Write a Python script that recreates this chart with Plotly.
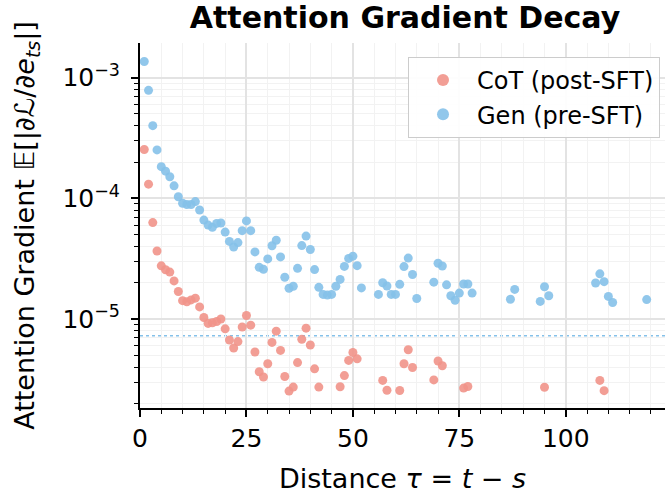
import plotly.graph_objects as go

# ---- data ----
gen_x = [1, 2, 3, 4, 5, 6, 7, 8, 9, 10, 11, 12, 13, 14, 15, 16, 17, 18, 19, 20,
         21, 22, 23, 24, 25, 26, 27, 28, 29, 30, 31, 32, 33, 34, 35, 36, 37, 38, 39, 40,
         41, 42, 43, 44, 45, 46, 47, 48, 49, 50, 51, 52,
         56, 57, 58, 59, 60, 61, 62, 63, 64, 65,
         69, 70, 71, 72, 73, 74, 75, 76, 77, 78,
         87, 88, 94, 95, 96, 107, 108, 109, 110, 111, 119]
gen_y = [1.36e-3, 7.85e-4, 4.0e-4, 2.52e-4, 1.83e-4, 1.68e-4, 1.51e-4, 1.27e-4, 1.03e-4, 9.1e-5,
         8.9e-5, 8.9e-5, 9.4e-5, 8.0e-5, 6.6e-5, 6.0e-5, 5.75e-5, 6.2e-5, 6.25e-5, 5.25e-5,
         4.4e-5, 3.95e-5, 4.3e-5, 5.4e-5, 6.5e-5, 5.4e-5, 3.6e-5, 2.68e-5, 2.58e-5, 3.15e-5,
         4.05e-5, 4.5e-5, 3.27e-5, 2.22e-5, 1.8e-5, 1.87e-5, 2.63e-5, 4.06e-5, 4.87e-5, 3.77e-5,
         2.57e-5, 1.83e-5, 1.6e-5, 1.58e-5, 1.6e-5, 1.87e-5, 2.13e-5, 2.73e-5, 3.18e-5, 3.32e-5,
         2.77e-5, 1.81e-5,
         1.6e-5, 2.0e-5, 1.88e-5, 1.6e-5, 1.6e-5, 1.94e-5, 2.72e-5, 3.2e-5, 2.34e-5, 1.48e-5,
         2.02e-5, 2.9e-5, 2.75e-5, 1.92e-5, 1.56e-5, 1.43e-5, 1.64e-5, 1.95e-5, 1.95e-5, 1.64e-5,
         1.46e-5, 1.76e-5, 1.4e-5, 1.85e-5, 1.56e-5, 1.99e-5, 2.37e-5, 2.04e-5, 1.54e-5, 1.37e-5,
         1.45e-5]

cot_x = [1, 2, 3, 4, 5, 6, 7, 8, 9, 10, 11, 12, 13, 14, 15, 16, 17, 18, 19, 20,
         21, 22, 23, 24, 25, 26, 27, 28, 29, 30, 31, 32, 33, 34, 35, 36, 37, 38, 39, 40,
         41, 42, 47, 48, 49, 50, 51, 57, 58, 61, 62, 63, 64, 69, 70, 71, 76, 77, 95, 108, 109]
cot_y = [2.54e-4, 1.31e-4, 6.3e-5, 3.66e-5, 2.76e-5, 2.56e-5, 2.45e-5, 2.07e-5, 1.69e-5, 1.42e-5,
         1.39e-5, 1.44e-5, 1.49e-5, 1.26e-5, 1.03e-5, 9.2e-6, 9.3e-6, 9.55e-6, 1.0e-5, 8.3e-6,
         6.7e-6, 5.75e-6, 6.5e-6, 8.6e-6, 1.07e-5, 8.9e-6, 5.33e-6, 3.66e-6, 3.31e-6, 4.26e-6,
         6.4e-6, 7.94e-6, 5.5e-6, 3.34e-6, 2.53e-6, 2.73e-6, 4.36e-6, 6.8e-6, 8.4e-6, 6.1e-6,
         3.87e-6, 2.73e-6, 2.75e-6, 3.4e-6, 4.54e-6, 5.28e-6, 4.68e-6, 3.1e-6, 2.57e-6, 2.56e-6,
         4.26e-6, 5.57e-6, 3.97e-6, 3.13e-6, 4.49e-6, 4.1e-6, 2.68e-6, 2.76e-6, 2.72e-6, 3.1e-6,
         2.55e-6]

noise_floor = 7.27e-6
x_range = [0, 123.3]
y_range_log = [-5.737, -2.713]
y_tickvals = [1e-5, 1e-4, 1e-3]
y_ticktext = ["10<sup>−5</sup>", "10<sup>−4</sup>", "10<sup>−3</sup>"]
x_tickvals = [0, 25, 50, 75, 100]

RED = "#F1948A"
BLUE = "#85C1E9"
FONT = "DejaVu Sans"

fig = go.Figure()
fig.add_trace(go.Scatter(x=cot_x, y=cot_y, mode="markers", name="CoT (post-SFT)",
                         marker=dict(color=RED, size=9, opacity=0.9, line=dict(width=0))))
fig.add_trace(go.Scatter(x=gen_x, y=gen_y, mode="markers", name="Gen (pre-SFT)",
                         marker=dict(color=BLUE, size=9, opacity=0.9, line=dict(width=0))))

fig.add_shape(type="line", xref="paper", x0=0, x1=1, yref="y", y0=noise_floor, y1=noise_floor,
              line=dict(color=BLUE, width=1.6, dash="dot"), layer="below")

fig.update_layout(
    width=665, height=496,
    margin=dict(l=140, r=0, t=43, b=88),
    paper_bgcolor="white", plot_bgcolor="white",
    font=dict(family=FONT, size=24, color="black"),
    title=dict(text="<b>Attention Gradient Decay</b>", x=0.609, xanchor="center",
               y=1 - 17 / 496, yanchor="middle", font=dict(family=FONT, size=30, color="black")),
    showlegend=True,
    legend=dict(x=0.9905, xanchor="right", y=0.962, yanchor="top",
                bgcolor="rgba(255,255,255,0.9)", bordercolor="#cccccc", borderwidth=1,
                font=dict(family=FONT, size=24), itemsizing="constant", itemwidth=58,
                entrywidth=188, entrywidthmode="pixels",
                tracegroupgap=0),
)

fig.update_xaxes(
    range=x_range, tickvals=x_tickvals, ticks="outside", ticklen=7, tickwidth=1.6,
    tickcolor="black", showline=True, linecolor="black", linewidth=2, mirror=False,
    showgrid=True, gridcolor="#e3e3e3", gridwidth=1.5, zeroline=False, automargin=False,
    minor=dict(dtick=5, ticks="outside", ticklen=4, tickwidth=1, tickcolor="black",
               showgrid=True, gridcolor="#f2f2f2", gridwidth=1),
    title=dict(text="Distance <i>τ</i> = <i>t</i> − <i>s</i>", standoff=17,
               font=dict(family=FONT, size=27)),
    tickfont=dict(family=FONT, size=25),
)

fig.update_yaxes(
    type="log", range=y_range_log, tickvals=y_tickvals, ticktext=y_ticktext,
    ticks="outside", ticklen=7, tickwidth=1.6, tickcolor="black", ticklabelstandoff=6,
    showline=True, linecolor="black", linewidth=2, mirror=False,
    showgrid=True, gridcolor="#e3e3e3", gridwidth=1.5, zeroline=False, automargin=False,
    minor=dict(dtick="D1", ticks="outside", ticklen=4, tickwidth=1, tickcolor="black",
               showgrid=True, gridcolor="#f2f2f2", gridwidth=1),
    title=dict(text="Attention Gradient 𝔼[|∂ℒ/∂<i>e</i><sub><i>ts</i></sub>|]", standoff=20,
               font=dict(family=FONT, size=27)),
    tickfont=dict(family=FONT, size=25),
)

fig.write_html("out.html", post_script="document.body.style.margin='0';",
               config={"displayModeBar": False})
